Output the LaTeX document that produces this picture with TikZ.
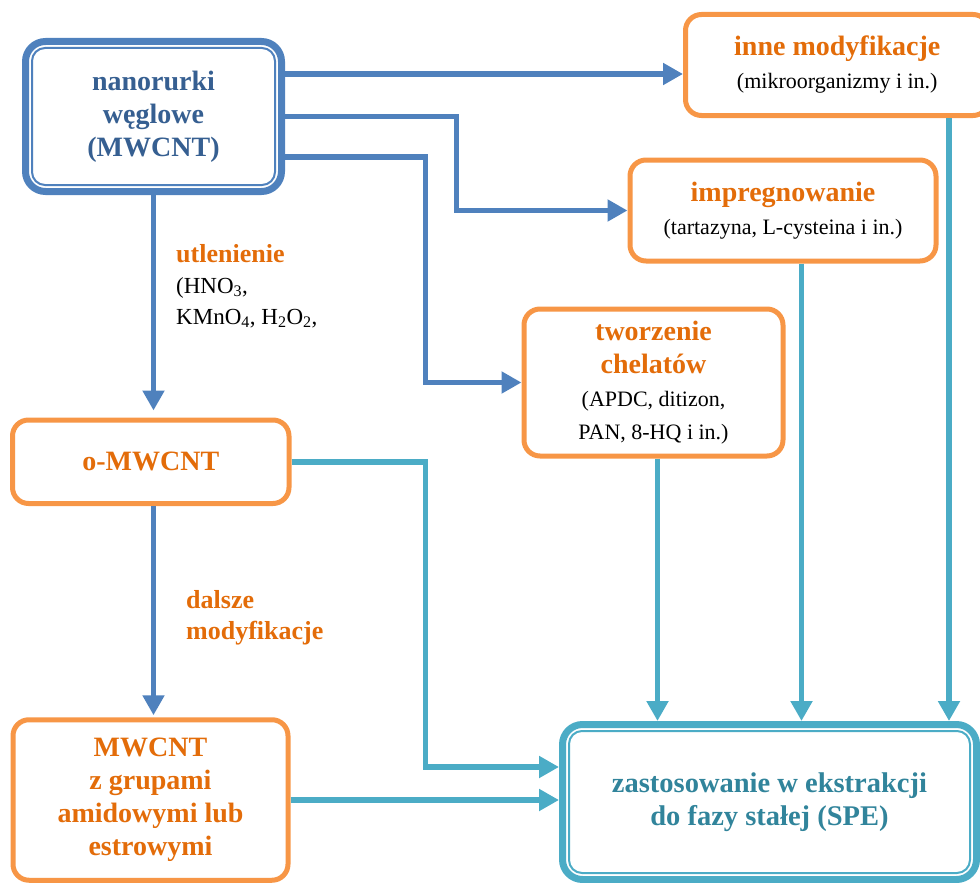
\documentclass[tikz,border=0pt]{standalone}
\usepackage{fontspec}
\setmainfont{Liberation Serif}
\usepackage{xcolor}
\definecolor{lineblue}{RGB}{79, 129, 189}
\definecolor{textblue}{RGB}{54, 95, 145}
\definecolor{lineorange}{RGB}{247, 150, 70}
\definecolor{textorange}{RGB}{227, 108, 9}
\definecolor{lineteal}{RGB}{75, 172, 198}
\definecolor{textteal}{RGB}{49, 132, 155}
\usetikzlibrary{arrows.meta, positioning, calc}
\newcommand{\note}[1]{{\normalfont\fontsize{22}{27}\selectfont\color{black}#1}}

\begin{document}
\begin{tikzpicture}[x=1pt, y=-1pt, >={Triangle[length=20pt, width=21pt]},
    box/.style={draw, fill=white, align=center, inner sep=0pt, font=\fontsize{28}{33}\selectfont\bfseries},
    orbox/.style={box, rounded corners=16pt, draw=lineorange, line width=5pt, text=textorange},
    dblbox/.style={box, rounded corners=20pt, line width=7pt},
    inner/.style={line width=2pt, rounded corners=13pt},
    bluearrow/.style={->, draw=lineblue, line width=5.5pt},
    tealarrow/.style={->, draw=lineteal, line width=5.5pt},
    lbl/.style={anchor=west, align=left, inner sep=0pt, text=textorange, font=\fontsize{26}{31}\selectfont\bfseries}]
    \useasboundingbox (0,0) rectangle (980,883);

    \node[dblbox, draw=lineblue, text=textblue, minimum width=256pt, minimum height=150pt] (mw) at (153.5,116.5) {nanorurki\\węglowe\\(MWCNT)};
    \node[orbox, minimum width=303.5pt, minimum height=101pt] (inne) at (837.25,65) {inne modyfikacje\\\note{(mikroorganizmy i in.)}};
    \node[orbox, minimum width=306pt, minimum height=101pt] (imp) at (783,210.5) {impregnowanie\\\note{(tartazyna, L-cysteina i in.)}};
    \node[orbox, minimum width=259pt, minimum height=147pt] (chel) at (653.5,382.5) {tworzenie\\chelatów\\\note{(APDC, ditizon,}\\\note{PAN, 8-HQ i in.)}};
    \node[orbox, minimum width=276.5pt, minimum height=83.5pt] (omw) at (150.75,461.75) {o-MWCNT};
    \node[orbox, minimum width=275pt, minimum height=160.5pt] (grp) at (150.5,800) {MWCNT\\z grupami\\amidowymi lub\\estrowymi};
    \node[dblbox, draw=lineteal, text=textteal, minimum width=414pt, minimum height=155pt, font=\fontsize{28.5}{33}\selectfont\bfseries] (spe) at (769.5,802) {zastosowanie w ekstrakcji\\do fazy stałej (SPE)};

    \draw[inner, lineblue] ([xshift=10pt,yshift=-10pt]mw.north west) rectangle ([xshift=-10pt,yshift=10pt]mw.south east);
    \draw[inner, lineteal] ([xshift=10pt,yshift=-10pt]spe.north west) rectangle ([xshift=-10pt,yshift=10pt]spe.south east);

    \node[lbl] (ox) at (176,286) {utlenienie\\{\normalfont\fontsize{23}{30}\selectfont\color{black}(HNO\textsubscript{3},}\\{\normalfont\fontsize{23}{30}\selectfont\color{black}KMnO\textsubscript{4}, H\textsubscript{2}O\textsubscript{2},}};
    \node[lbl] (dm) at (186,617.5) {dalsze\\modyfikacje};

    \coordinate (bendA) at (456.5,0);
    \coordinate (bendB) at (425.5,0);

    \draw[bluearrow] ([yshift=42.5pt]mw.east) -- ([yshift=42.5pt]mw.east -| inne.west);
    \draw[bluearrow] (mw.east) -- (mw.east -| bendA) |- (imp.west);
    \draw[bluearrow] ([yshift=-40.5pt]mw.east) -- ([yshift=-40.5pt]mw.east -| bendB) |- (chel.west);
    \draw[bluearrow, shorten >=7pt] (mw.south) -- (omw.north -| mw.south);
    \draw[bluearrow, shorten >=2pt] (omw.south -| mw.south) -- (grp.north -| mw.south);

    \draw[tealarrow] (omw.east) -- (omw.east -| bendB) |- ([yshift=35pt]spe.west);
    \draw[tealarrow] (grp.east) -- (grp.east -| spe.west);
    \draw[tealarrow] ([xshift=4pt]chel.south) -- ([xshift=4pt]chel.south |- spe.north);
    \draw[tealarrow] ([xshift=18.5pt]imp.south) -- ([xshift=18.5pt]imp.south |- spe.north);
    \draw[tealarrow] ([xshift=111.75pt]inne.south) -- ([xshift=111.75pt]inne.south |- spe.north);
\end{tikzpicture}
\end{document}
